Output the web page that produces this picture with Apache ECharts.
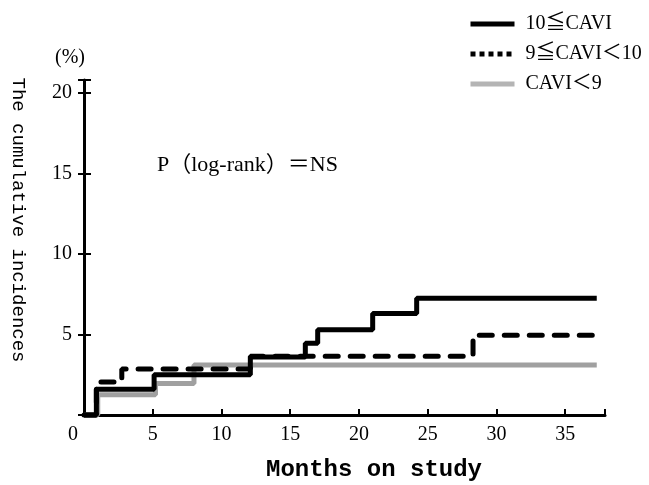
<!DOCTYPE html>
<html>
<head>
<meta charset="utf-8">
<script src="https://cdn.jsdelivr.net/npm/echarts@6/dist/echarts.min.js"></script>
<style>html,body{margin:0;padding:0;background:#fff;}#c{width:649px;height:485px;}</style>
</head>
<body>
<div id="c"></div>
<script>
// Data (months, cumulative incidence %)
var seriesNames = ['10≦CAVI', '9≦CAVI＜10', 'CAVI＜9'];
var highCAVI = [[0,0],[0.9,1.6],[5.1,2.5],[12.1,3.6],[16.1,4.45],[17.0,5.3],[21.0,6.3],[24.2,7.25],[37.3,7.25]];
var midCAVI  = [[0,0],[0.9,2.05],[2.75,2.85],[12.1,3.65],[28.3,4.95],[37.3,4.95]];
var lowCAVI  = [[0,0],[1.0,1.25],[5.2,1.95],[8.0,3.1],[37.3,3.1]];
var xTicks = [0,5,10,15,20,25,30,35];
var yTicks = [0,5,10,15,20];

var SERIF = '"Liberation Serif","Noto Sans CJK JP",serif';
var chart = echarts.init(document.getElementById('c'));
chart.setOption({
  animation: false,
  backgroundColor: '#fff',
  grid: {left: 84, right: 44, top: 80, bottom: 70},
  legend: {
    orient: 'vertical', left: 463, top: 9,
    itemWidth: 44, itemHeight: 14, itemGap: 10,
    itemStyle: {opacity: 0},
    textStyle: {fontFamily: SERIF, fontSize: 20, color: '#000', lineHeight: 20, padding: [0,0,0,6]},
    data: [
      {name: seriesNames[0], itemStyle: {opacity: 0}, lineStyle: {width: 5, color: '#000'}},
      {name: seriesNames[1], itemStyle: {opacity: 0}, lineStyle: {type: [5,4], cap: 'butt', width: 5, color: '#000'}},
      {name: seriesNames[2], itemStyle: {opacity: 0}, lineStyle: {width: 5, color: '#b4b4b4'}}
    ]
  },
  xAxis: {
    type: 'value', min: 0, max: 37.9, interval: 5,
    axisLine: {lineStyle: {color: '#000', width: 3}},
    axisTick: {inside: true, length: 6, lineStyle: {color: '#000', width: 2}},
    splitLine: {show: false},
    axisLabel: {
      fontFamily: SERIF, fontSize: 20, color: '#000', margin: 10,
      formatter: function(v){ return v === 0 ? '{z|0}' : (xTicks.indexOf(v) >= 0 ? String(v) : ''); },
      rich: {z: {fontFamily: SERIF, fontSize: 20, color: '#000', padding: [0,22,0,0]}}
    }
  },
  yAxis: [{
    type: 'value', min: 0, max: 20.8, interval: 5,
    axisLine: {show: true, lineStyle: {color: '#000', width: 3}},
    axisTick: {show: true, inside: false, length: 6, lineStyle: {color: '#000', width: 2}},
    splitLine: {show: false},
    axisLabel: {
      fontFamily: SERIF, fontSize: 20, color: '#000', margin: 12,
      formatter: function(v){ return (v === 0 || yTicks.indexOf(v) < 0) ? '' : String(v); }
    }
  }, {
    type: 'value', min: 0, max: 20.8, interval: 5, position: 'left', offset: 0,
    axisLine: {show: false},
    axisTick: {show: true, inside: true, length: 7, lineStyle: {color: '#000', width: 2}},
    splitLine: {show: false},
    axisLabel: {show: false}
  }],
  series: [
    {name: seriesNames[2], type: 'line', step: 'end', data: lowCAVI, symbol: 'none', clip: false,
     lineStyle: {color: '#a0a0a0', width: 5}, itemStyle: {color: '#a0a0a0'}},
    {name: seriesNames[1], type: 'line', step: 'end', data: midCAVI, symbol: 'none', clip: false,
     lineStyle: {color: '#000', width: 5, type: [13,12], cap: 'round'}, itemStyle: {color: '#000'}},
    {name: seriesNames[0], type: 'line', step: 'end', data: highCAVI, symbol: 'none', clip: false,
     lineStyle: {color: '#000', width: 5}, itemStyle: {color: '#000'}}
  ],
  graphic: [
    {type: 'text', left: 55, top: 48, style: {text: '(%)', font: '20px ' + SERIF, fill: '#000'}},
    {type: 'text', x: 18, y: 220, rotation: -Math.PI/2,
     style: {text: 'The cumulative incidences', font: '19px "Liberation Mono",monospace', fill: '#000', align: 'center', verticalAlign: 'middle'}},
    {type: 'text', x: 374, y: 470,
     style: {text: 'Months on study', font: 'bold 24px "Liberation Mono",monospace', fill: '#000', align: 'center', verticalAlign: 'middle'}},
    {type: 'text', x: 157, y: 165,
     style: {text: 'P（log-rank）＝NS', font: '22px ' + SERIF, fill: '#000', align: 'left', verticalAlign: 'middle'}}
  ]
});
</script>
</body>
</html>
